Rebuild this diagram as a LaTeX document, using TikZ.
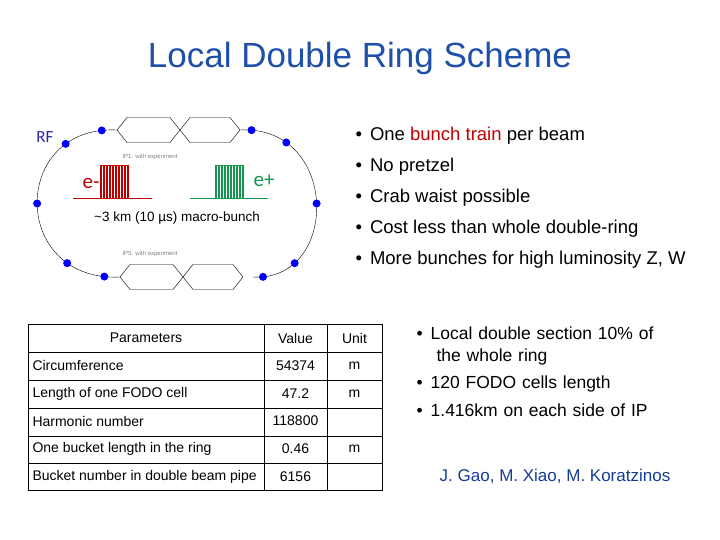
\documentclass[tikz,border=0pt]{standalone}
\usepackage{fontspec}
\setmainfont{Liberation Sans}
\newfontfamily\calib{Carlito}
\usetikzlibrary{calc}
\definecolor{titleblue}{RGB}{30,80,170}
\definecolor{rfblue}{RGB}{40,40,160}
\definecolor{brick}{RGB}{192,0,0}
\definecolor{bungreen}{RGB}{20,150,80}
\definecolor{authblue}{RGB}{20,60,150}
\tikzset{dot/.style={circle, fill=blue, inner sep=0pt, minimum size=8pt},
         bul/.style={anchor=west, font=\fontsize{18.5}{22}\selectfont},
         bul2/.style={anchor=north west, font=\fontsize{17.5}{22}\selectfont, text width=340pt},
         cell/.style={anchor=west, font=\fontsize{14}{16}\selectfont},
         ccell/.style={font=\fontsize{14}{16}\selectfont}}
\begin{document}
\begin{tikzpicture}[x=1pt, y=-1pt]
  \useasboundingbox (0,0) rectangle (720,540);
%
  \node (Title) at (360,58) {\fontsize{35}{40}\selectfont\color{titleblue}Local Double Ring Scheme};
%
  % ring
  \draw (117,130) .. controls (10,125) and (10,282) .. (120,277)
    node[dot, pos=0.05] (D1) {} node[dot, pos=0.2] (D2) {} node[dot, pos=0.5] (D3) {}
    node[dot, pos=0.8] (D4) {} node[dot, pos=0.95] (D5) {};
  \draw (240,130) .. controls (340,125) and (340,282) .. (253,277)
    node[dot, pos=0.04] (D6) {} node[dot, pos=0.19] (D7) {} node[dot, pos=0.5] (D8) {}
    node[dot, pos=0.8] (D9) {} node[dot, pos=0.96] (D10) {};
  % crossing sections
  \foreach \y/\x in {130/117, 277/120} {
    \draw (\x,\y) -- ++(10,-12.5) -- ++(43,0) -- ++(20,25) -- ++(40,0) -- ++(10,-12.5);
    \draw (\x,\y) -- ++(10,12.5) -- ++(43,0) -- ++(20,-25) -- ++(40,0) -- ++(10,12.5);
  }
  \node[gray, font=\fontsize{6}{7}\selectfont] (IP1) at (150,157) {IP1: with experiment};
  \node[gray, font=\fontsize{6}{7}\selectfont] (IP5) at (150,254) {IP5: with experiment};
  \node[rfblue, font=\calib\fontsize{17}{19}\selectfont] (RF) at (45,137) {RF};
  \node[brick, font=\calib\fontsize{21}{23}\selectfont] (Eminus) at (91,183) {e-};
  \node[bungreen, font=\calib\fontsize{21}{23}\selectfont] (Eplus) at (264,181) {e+};
  % bunch trains
  \draw[brick] (73,198) -- (152,198);
  \foreach \i in {0,...,19} \draw[brick, thin] (100+1.5*\i,165) -- (100+1.5*\i,198);
  \draw[brick] (100,165) -- (129,165);
  \draw[bungreen] (190,198) -- (268,198);
  \foreach \i in {0,...,19} \draw[bungreen, thin] (215+1.5*\i,165) -- (215+1.5*\i,198);
  \draw[bungreen] (215,165) -- (244,165);
  \node[font=\fontsize{13.5}{16}\selectfont] (Macro) at (177,218) {\textasciitilde 3 km (10 \textmu s) macro-bunch};
%
  % bullets
  \node[bul] (B1) at (352,136) {\textbullet\hspace{8pt}One {\color{brick}bunch train} per beam};
  \node[bul] (B2) at (352,167) {\textbullet\hspace{8pt}No pretzel};
  \node[bul] (B3) at (352,198) {\textbullet\hspace{8pt}Crab waist possible};
  \node[bul] (B4) at (352,229) {\textbullet\hspace{8pt}Cost less than whole double-ring};
  \node[bul] (B5) at (352,260) {\textbullet\hspace{8pt}More bunches for high luminosity Z, W};
%
  \node[bul2] (C1) at (413,323) {\textbullet\hspace{8pt}Local double section 10\% of\\\hspace{20pt}the whole ring};
  \node[bul2] (C2) at (413,372) {\textbullet\hspace{8pt}120 FODO cells length};
  \node[bul2] (C3) at (413,400) {\textbullet\hspace{8pt}1.416km on each side of IP};
  \node[authblue, font=\fontsize{17}{20}\selectfont] (Authors) at (555,476) {J. Gao, M. Xiao, M. Koratzinos};
%
  % table
  \draw[thick] (28,324) rectangle (382,490);
  \foreach \y in {352,380,408,436,463} \draw[thick] (28,\y) -- (382,\y);
  \draw[thick] (264,324) -- (264,490);
  \draw[thick] (327,324) -- (327,490);
  \node[ccell] (HPar) at (146,338) {Parameters};
  \node[ccell] (HVal) at (295.5,338) {Value};
  \node[ccell] (HUnit) at (354.5,338) {Unit};
  \foreach \t/\v/\u [count=\r] in {Circumference/54374/m, Length of one FODO cell/47.2/m,
      Harmonic number/118800/, One bucket length in the ring/0.46/m,
      Bucket number in double beam pipe/6156/} {
    \node[cell] (P\r) at (29,338+27.7*\r) {\t};
    \node[ccell] (V\r) at (295.5,338+27.7*\r) {\v};
    \node[ccell] (U\r) at (354.5,338+27.7*\r) {\u};
  }
\end{tikzpicture}
\end{document}
